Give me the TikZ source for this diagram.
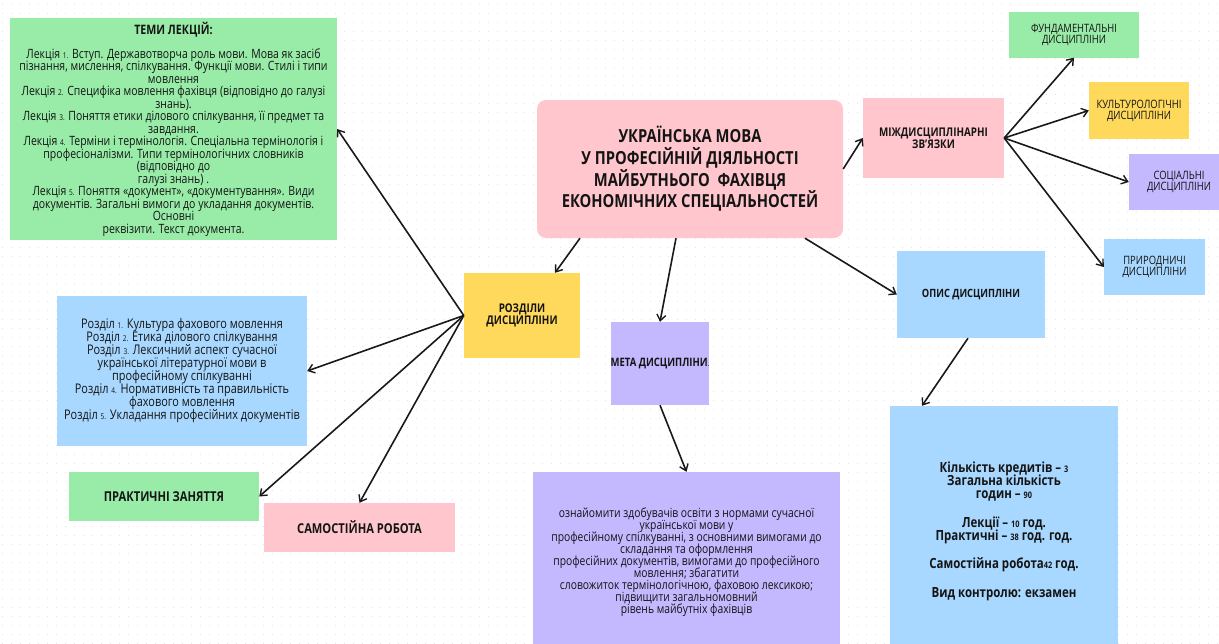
\documentclass[tikz,border=0pt]{standalone}
\usepackage{fontspec}
\setmainfont[FakeStretch=0.82]{Open Sans}
\usetikzlibrary{arrows.meta,calc}
\definecolor{bgreen}{RGB}{152,236,168}
\definecolor{bblue}{RGB}{168,216,255}
\definecolor{bpink}{RGB}{255,198,205}
\definecolor{byellow}{RGB}{255,217,92}
\definecolor{bpurple}{RGB}{196,184,255}
\lineskiplimit=-50pt
\newcommand\nm[1]{{\fontsize{8}{8}\selectfont #1}}
\newcommand\nmb[1]{{\fontsize{9}{9}\selectfont #1}}
\tikzset{
  box/.style={draw=none, inner sep=0pt, align=center, text=black!92},
  arr/.style={draw=black!90, line width=1.6pt, -{Straight Barb[length=6pt,width=9pt,line width=1.4pt]}},
  lbl/.style={font=\fontsize{12}{11.8}\selectfont\bfseries},
  sml/.style={font=\fontsize{11.5}{11}\selectfont},
}
\begin{document}
\begin{tikzpicture}[x=1pt,y=-1pt]
\useasboundingbox (0,0) rectangle (1219,643);
\clip (0,0) rectangle (1219,643);
\fill[white] (0,0) rectangle (1219,643);
\foreach \yy in {4,13,...,643}
  \draw[gray!22, line width=1pt, dash pattern=on 1pt off 8pt] (2,\yy) -- (1219,\yy);

% lecture topics
\node[box, fill=bgreen, minimum width=327pt, minimum height=222pt,
  font=\fontsize{12.8}{12.5}\selectfont] (lect) at (173.5,129) {%
  {\fontsize{13}{13}\selectfont\bfseries ТЕМИ ЛЕКЦІЙ:}\\[11.5pt]
  Лекція \nm{1.} Вступ. Державотворча роль мови. Мова як засіб\\
  пізнання, мислення, спілкування. Функції мови. Стилі і типи\\
  мовлення\\
  Лекція \nm{2.} Специфіка мовлення фахівця (відповідно до галузі\\
  знань).\\
  Лекція \nm{3.} Поняття етики ділового спілкування, її предмет та\\
  завдання.\\
  Лекція \nm{4.} Терміни і термінологія. Спеціальна термінологія і\\
  професіоналізми. Типи термінологічних словників\\
  (відповідно до\\
  галузі знань) .\\
  Лекція \nm{5.} Поняття «документ», «документування». Види\\
  документів. Загальні вимоги до укладання документів.\\
  Основні\\
  реквізити. Текст документа.};

% sections
\node[box, fill=bblue, minimum width=250pt, minimum height=150pt,
  font=\fontsize{13.3}{13}\selectfont] (razd) at (182,371) {%
  Розділ \nm{1.} Культура фахового мовлення\\
  Розділ \nm{2.} Етика ділового спілкування\\
  Розділ \nm{3.} Лексичний аспект сучасної\\
  української літературної мови в\\
  професійному спілкуванні\\
  Розділ \nm{4.} Нормативність та правильність\\
  фахового мовлення\\
  Розділ \nm{5.} Укладання професійних документів};

\node[box, fill=bgreen, minimum width=190pt, minimum height=49pt, font=\fontsize{13.6}{13}\selectfont\bfseries] (prakt) at (164,496.5) {ПРАКТИЧНІ ЗАНЯТТЯ};
\node[box, fill=bpink, minimum width=191pt, minimum height=49pt, font=\fontsize{13.6}{13}\selectfont\bfseries] (samost) at (359.5,527.5) {САМОСТІЙНА РОБОТА};

% central
\node[box, fill=bpink, rounded corners=9pt, minimum width=306pt, minimum height=138pt,
  font=\fontsize{18}{21.7}\selectfont\bfseries] (central) at (690,169) {%
  УКРАЇНСЬКА МОВА\\
  У ПРОФЕСІЙНІЙ ДІЯЛЬНОСТІ\\
  МАЙБУТНЬОГО\ \ ФАХІВЦЯ\\
  ЕКОНОМІЧНИХ СПЕЦІАЛЬНОСТЕЙ};

\node[box, fill=byellow, minimum width=116pt, minimum height=85pt, lbl] (yellow) at (522,315.5) {РОЗДІЛИ\\ДИСЦИПЛІНИ};
\node[box, fill=bpurple, minimum width=98pt, minimum height=83pt, font=\fontsize{11.6}{11}\selectfont\bfseries] (meta) at (660,363.5) {МЕТА ДИСЦИПЛІНИ{\mdseries\nm{.}}};

\node[box, fill=bpurple, minimum width=307pt, minimum height=180pt,
  font=\fontsize{12.6}{12}\selectfont] (metatext) at (686.5,562) {%
  ознайомити здобувачів освіти з нормами сучасної\\
  української мови у\\
  професійному спілкуванні, з основними вимогами до\\
  складання та оформлення\\
  професійних документів, вимогами до професійного\\
  мовлення; збагатити\\
  словожиток термінологічною, фаховою лексикою;\\
  підвищити загальномовний\\
  рівень майбутніх фахівців};

\node[box, fill=bpink, minimum width=141pt, minimum height=80pt, lbl] (mizh) at (933.5,138) {МІЖДИСЦИПЛІНАРНІ\\ЗВ'ЯЗКИ};
\node[box, fill=bgreen, minimum width=130pt, minimum height=46pt, sml] (fund) at (1074,34.5) {ФУНДАМЕНТАЛЬНІ\\ДИСЦИПЛІНИ};
\node[box, fill=byellow, minimum width=100pt, minimum height=57pt, sml] (kult) at (1139,110.5) {КУЛЬТУРОЛОГІЧНІ\\ДИСЦИПЛІНИ};
\node[box, fill=bpurple, minimum width=100pt, minimum height=56pt, sml] (soc) at (1179,182) {СОЦІАЛЬНІ\\ДИСЦИПЛІНИ};
\node[box, fill=bblue, minimum width=101pt, minimum height=56pt, sml] (pryr) at (1154.5,267) {ПРИРОДНИЧІ\\ДИСЦИПЛІНИ};

\node[box, fill=bblue, minimum width=148pt, minimum height=87pt, font=\fontsize{11.4}{11}\selectfont\bfseries] (opis) at (971,294.5) {ОПИС ДИСЦИПЛІНИ};

\node[box, fill=bblue, minimum width=228pt, minimum height=250pt,
  font=\fontsize{14}{13.2}\selectfont\bfseries] (stats) at (1004,531) {%
  Кількість кредитів -- \nmb{3}\\
  Загальна кількість\\
  годин -- \nmb{90}\\[16pt]
  Лекції -- \nmb{10} год.\\
  Практичні -- \nmb{38} год. год.\\[14pt]
  Самостійна робота\nmb{42} год.\\[16pt]
  Вид контролю: екзамен};

% connectors
\draw[arr] (yellow.west) -- (lect.east);
\draw[arr] (yellow.west) -- (razd.east);
\draw[arr] (yellow.west) -- (prakt.east);
\draw[arr] (yellow.west) -- (samost.north);
\draw[arr] ([xshift=-110pt]central.south) -- ([xshift=33pt]yellow.north);
\draw[arr] ([xshift=-14pt]central.south) -- (meta.north);
\draw[arr] ([xshift=115pt]central.south) -- (opis.west);
\draw[arr] (central.east) -- (mizh.west);
\draw[arr] (mizh.east) -- (fund.south);
\draw[arr] (mizh.east) -- (kult.west);
\draw[arr] (mizh.east) -- (soc.west);
\draw[arr] (mizh.east) -- (pryr.west);
\draw[arr] (meta.south) -- (metatext.north);
\draw[arr] ([xshift=-3pt]opis.south) -- ([xshift=-82pt]stats.north);
\end{tikzpicture}
\end{document}
